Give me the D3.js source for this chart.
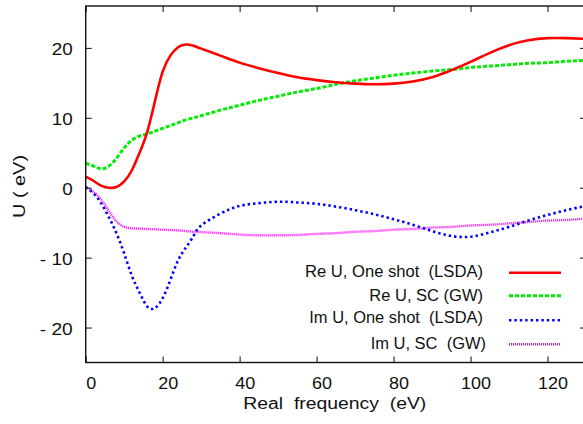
<!DOCTYPE html>
<html><head><meta charset="utf-8">
<script src="https://cdn.jsdelivr.net/npm/d3@7"></script>
<style>html,body{margin:0;padding:0;background:#fff;} text{font-family:"Liberation Sans",Arial,sans-serif;white-space:pre;}</style>
</head><body>
<svg id="c" width="583" height="424"></svg>
<script>
const freq = [0,2,4,6,8,10,12,14,16,18,20,22,24,26,28,30,35,40,45,50,55,60,65,70,75,80,85,90,95,100,105,110,115,120,125,130];
const reOneShot = [1.6,1.0,0.3,0.0,0.1,0.9,2.5,5.0,8.0,12.4,16.6,18.9,20.1,20.5,20.3,19.9,18.9,17.9,17.1,16.4,15.8,15.4,15.1,14.9,14.8,14.9,15.2,15.8,16.8,18.0,19.3,20.4,21.1,21.4,21.4,21.3];
const reSC = [3.5,3.1,2.7,3.1,4.2,5.7,6.8,7.4,7.7,8.1,8.5,8.9,9.3,9.7,10.0,10.3,11.1,11.8,12.5,13.1,13.7,14.2,14.8,15.3,15.7,16.1,16.4,16.7,16.9,17.2,17.4,17.6,17.8,17.9,18.1,18.2];
const imOneShot = [0.1,-0.8,-2.2,-4.2,-6.5,-9.4,-12.6,-15.0,-17.0,-17.2,-15.8,-13.2,-10.4,-8.6,-6.9,-5.4,-3.7,-2.6,-2.2,-2.0,-2.1,-2.3,-2.7,-3.2,-3.8,-4.5,-5.3,-6.2,-6.9,-7.0,-6.4,-5.6,-4.7,-3.9,-3.2,-2.6];
const imSC = [0.1,-0.6,-1.7,-3.3,-4.8,-5.6,-5.8,-5.85,-5.9,-5.95,-6.0,-6.05,-6.1,-6.2,-6.3,-6.35,-6.5,-6.7,-6.8,-6.8,-6.75,-6.6,-6.5,-6.3,-6.2,-6.0,-5.9,-5.7,-5.6,-5.4,-5.3,-5.1,-4.9,-4.7,-4.6,-4.4];
const seriesNames = ["Re U, One shot  (LSDA)","Re U, SC (GW)","Im U, One shot  (LSDA)","Im U, SC  (GW)"];
const xTicks = [0,20,40,60,80,100,120];
const yTicks = [-20,-10,0,10,20];
const yTickLabels = ["- 20","- 10","0","10","20"];

const svg = d3.select("#c");
const L=85.7, R=586, T=6, B=362.5;
const x = d3.scaleLinear().domain([0,130]).range([L,R]);
const y = d3.scaleLinear().domain([-25,26]).range([B,T]);

const styles = [
  {color:"#ff0000", w:2.6, dash:null},
  {color:"#00ee00", w:3, dash:"4,2"},
  {color:"#0000ff", w:2.6, dash:"2.4,3"},
  {color:"#ff00ff", w:2.4, dash:"1,1"}
];
const data = [reOneShot, reSC, imOneShot, imSC];

svg.append("defs").append("clipPath").attr("id","clip").append("rect")
  .attr("x",L).attr("y",T).attr("width",R-L).attr("height",B-T);

const line = d3.line().x((d,i)=>x(freq[i])).y(d=>y(d)).curve(d3.curveNatural);
const g = svg.append("g").attr("clip-path","url(#clip)");
[3,2,1,0].forEach(k=>{
  g.append("path").datum(data[k]).attr("d",line).attr("fill","none")
   .attr("stroke",styles[k].color).attr("stroke-width",styles[k].w)
   .attr("stroke-dasharray",styles[k].dash);
});

const tickLen = 6;
const ax = svg.append("g").attr("transform",`translate(0,${B})`)
  .call(d3.axisBottom(x).tickValues(xTicks).tickSize(-tickLen).tickPadding(0).tickFormat(d3.format("d")));
svg.append("g").attr("transform",`translate(0,${T})`)
  .call(d3.axisTop(x).tickValues(xTicks).tickSize(-tickLen).tickFormat(""));
const ay = svg.append("g").attr("transform",`translate(${L},0)`)
  .call(d3.axisLeft(y).tickValues(yTicks).tickSize(-tickLen).tickPadding(13).tickFormat((d,i)=>yTickLabels[i]));
svg.append("g").attr("transform",`translate(${R},0)`)
  .call(d3.axisRight(y).tickValues(yTicks).tickSize(-tickLen).tickFormat(""));
svg.selectAll(".domain").remove();
svg.selectAll(".tick line").attr("stroke","#333").attr("stroke-width",1.2);
svg.selectAll(".tick text").attr("font-family","Liberation Sans, Arial, sans-serif").attr("font-size",16).attr("fill","#111");
ax.selectAll(".tick text").attr("y",26).attr("dy",0).attr("dx",5)
  .attr("textLength",function(){return this.textContent.length*10;}).attr("lengthAdjust","spacingAndGlyphs");
ay.selectAll(".tick text").attr("dy","0.44em")
  .attr("textLength",function(){const t=this.textContent;return t.startsWith("-")?33:t.length*10.5;}).attr("lengthAdjust","spacingAndGlyphs");

svg.append("rect").attr("x",L).attr("y",T).attr("width",R-L).attr("height",B-T)
  .attr("fill","none").attr("stroke","#111").attr("stroke-width",1.4);

svg.append("text").attr("x",243.3).attr("y",409).attr("font-size",16).attr("fill","#111")
  .attr("textLength",183).attr("lengthAdjust","spacingAndGlyphs").text("Real  frequency  (eV)");
svg.append("text").attr("transform","translate(25,186.5) rotate(-90)").attr("text-anchor","middle")
  .attr("font-size",16).attr("fill","#111").attr("textLength",63).attr("lengthAdjust","spacingAndGlyphs").text("U ( eV)");

const legBase = [277,300.7,323.3,348.5];
const legRight = [483,483,483,486];
const legW = [178,113.7,173.7,115.3];
const legLineY = [272.7,295.7,320.3,344.3];
seriesNames.forEach((n,k)=>{
  svg.append("text").attr("x",legRight[k]).attr("y",legBase[k]).attr("text-anchor","end")
    .attr("font-size",16).attr("fill","#111").attr("textLength",legW[k]).attr("lengthAdjust","spacingAndGlyphs").text(n);
  svg.append("line").attr("x1",509).attr("x2",561).attr("y1",legLineY[k]).attr("y2",legLineY[k])
    .attr("stroke",styles[k].color).attr("stroke-width",styles[k].w).attr("stroke-dasharray",styles[k].dash);
});
</script>
</body></html>
